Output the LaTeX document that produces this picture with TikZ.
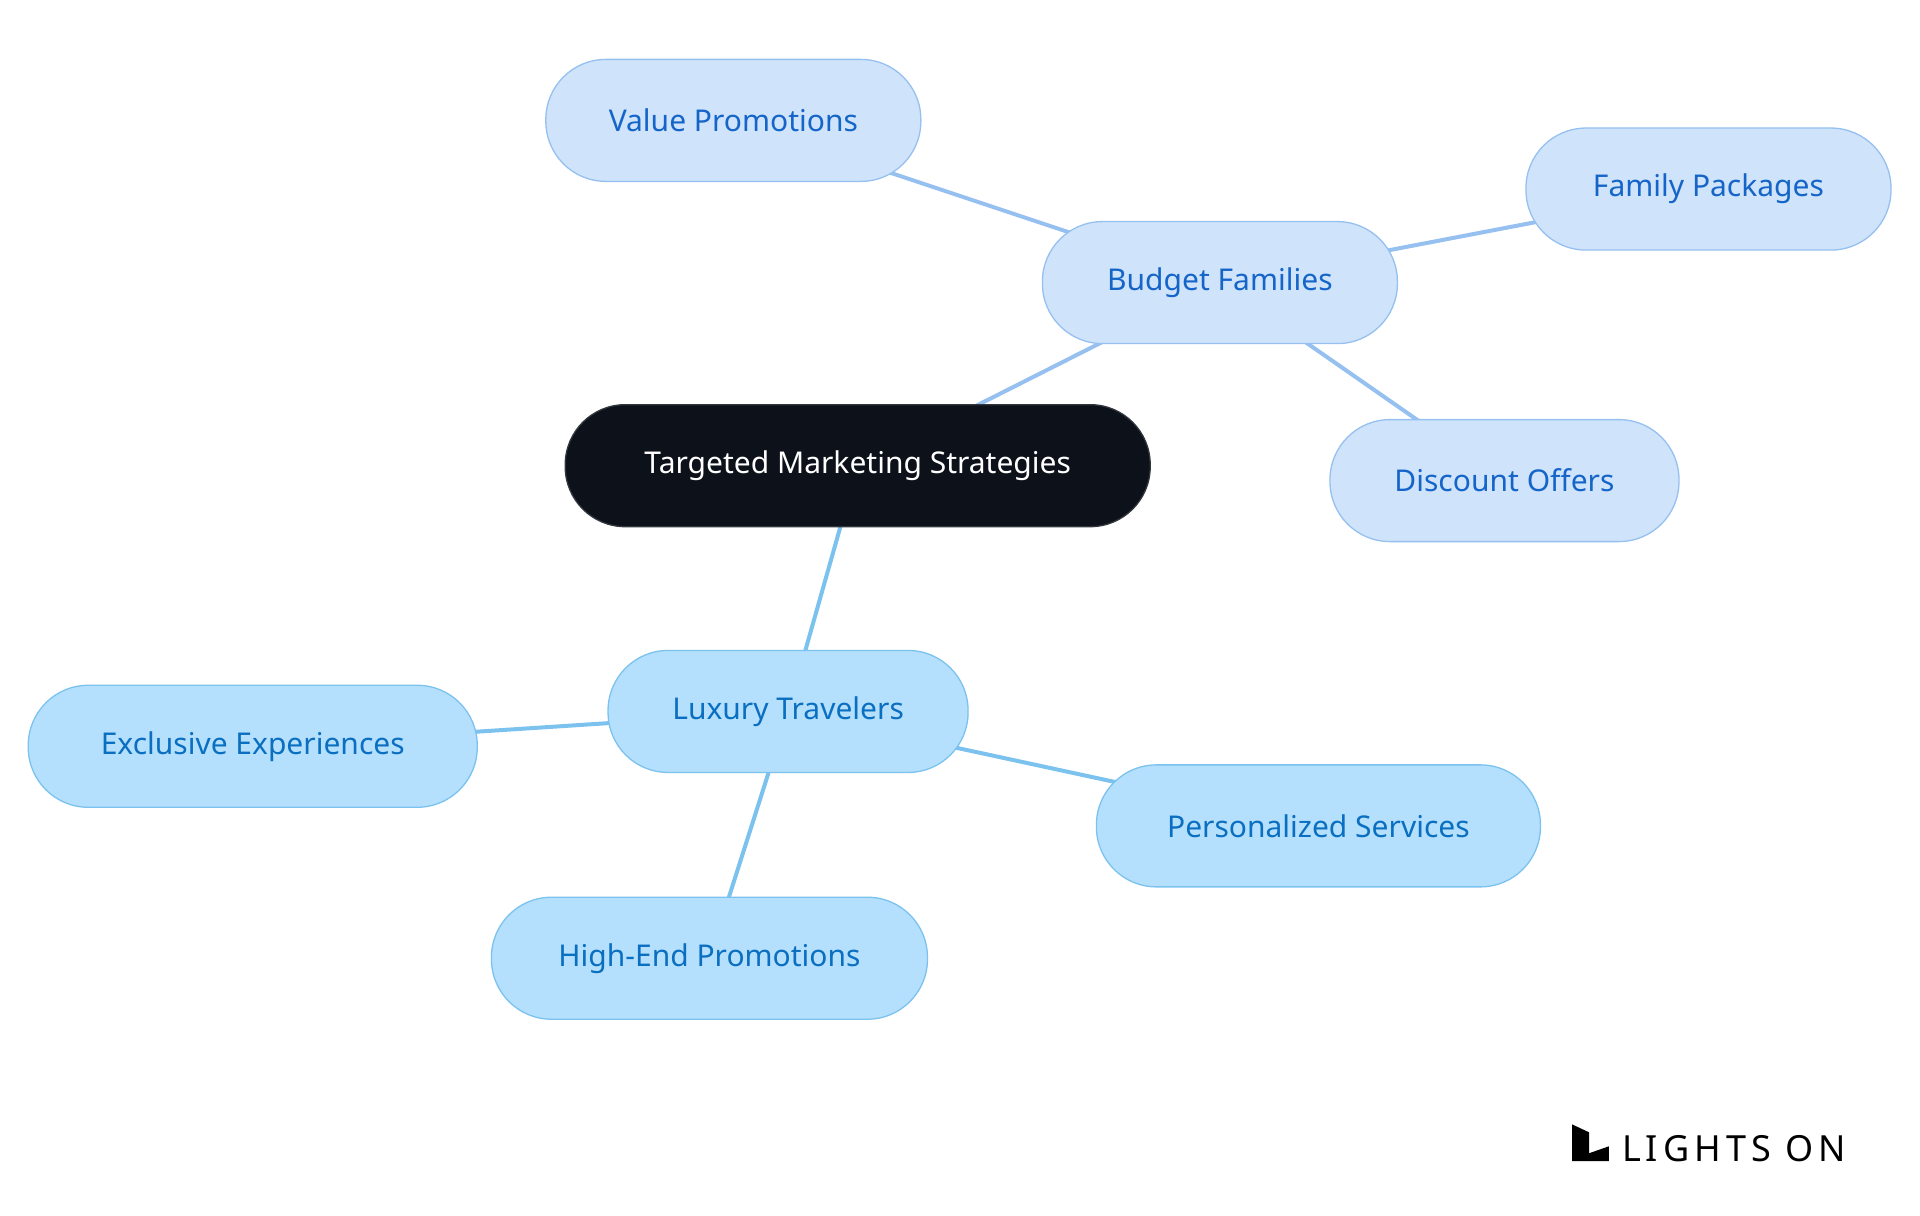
\documentclass[tikz,border=0pt]{standalone}
\usepackage{fontspec}
\setmainfont{Noto Sans}
\begin{document}
\begin{tikzpicture}[x=0.995pt,y=-0.995pt,
 base/.style={rounded corners=60pt,minimum height=122pt,line width=1.3pt,font=\fontsize{30}{36}\selectfont,inner sep=0pt},
 bud/.style={base,fill={rgb,255:red,207;green,227;blue,251},draw={rgb,255:red,150;green,192;blue,240},text={rgb,255:red,21;green,101;blue,200}},
 lux/.style={base,fill={rgb,255:red,181;green,224;blue,253},draw={rgb,255:red,124;green,194;blue,238},text={rgb,255:red,10;green,111;blue,192}},
 rootn/.style={base,fill={rgb,255:red,13;green,18;blue,26},draw={rgb,255:red,50;green,55;blue,62},text=white},
 be/.style={line width=4pt,draw={rgb,255:red,150;green,192;blue,240}},
 le/.style={line width=4pt,draw={rgb,255:red,124;green,194;blue,238}}]
\useasboundingbox (0,0) rectangle (1929.6,1221.1);
\coordinate (cr) at (862,468);
\coordinate (cb) at (1226,284);
\coordinate (cl) at (792,715);
\draw[be] (cr) -- (cb) -- (737,121) (cb) -- (1717,190) (cb) -- (1512,483);
\draw[le] (cr) -- (cl) -- (254,750) (cl) -- (1325,830) (cl) -- (713,963);
\node[rootn,minimum width=585pt] (root) at (cr) {Targeted Marketing Strategies};
\node[bud,minimum width=355pt] (bf) at (cb) {Budget Families};
\node[bud,minimum width=375pt] (vp) at (737,121) {Value Promotions};
\node[bud,minimum width=365pt] (fp) at (1717,190) {Family Packages};
\node[bud,minimum width=349pt] (do) at (1512,483) {Discount Offers};
\node[lux,minimum width=360pt] (lt) at (cl) {Luxury Travelers};
\node[lux,minimum width=449pt] (ee) at (254,750) {Exclusive Experiences};
\node[lux,minimum width=444pt] (ps) at (1325,830) {Personalized Services};
\node[lux,minimum width=436pt] (he) at (713,963) {High-End Promotions};
\fill (1580,1130) -- (1597,1138) -- (1597,1167) -- (1580,1167) -- cycle;
\fill (1597,1159) -- (1617,1152) -- (1617,1167) -- (1597,1167) -- cycle;
\node[anchor=base west,inner sep=0pt,font=\fontsize{36}{36}\selectfont\addfontfeature{LetterSpace=14}] (logo) at (1630,1167) {LIGHTS ON};
\end{tikzpicture}
\end{document}
